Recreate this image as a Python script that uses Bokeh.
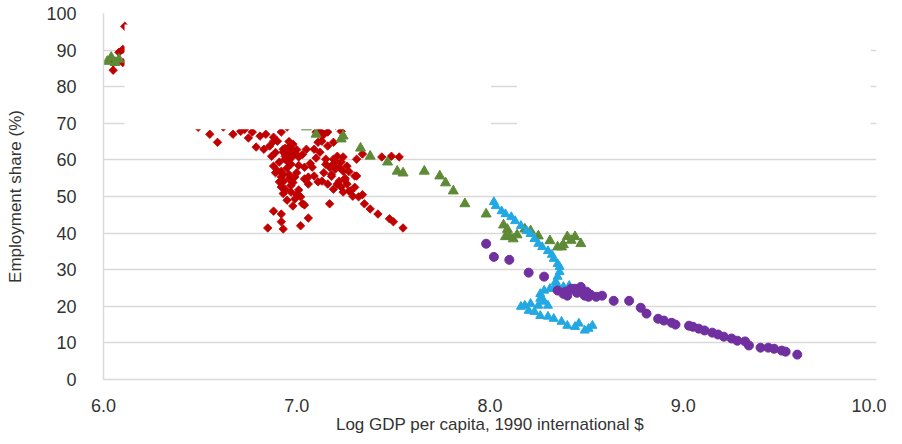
from bokeh.plotting import figure
from bokeh.models import BoxAnnotation, FixedTicker, PrintfTickFormatter
from bokeh.embed import file_html
from bokeh.resources import INLINE

# ---------------- data ----------------
red_x = [6.05, 6.05, 6.08, 6.10, 6.11, 6.10, 6.15, 6.20, 6.30, 6.40, 6.50, 6.60, 6.45,
         6.49, 6.55, 6.59, 6.71, 6.73, 6.77, 6.81, 6.84, 6.88, 6.88, 6.92, 6.90, 6.83,
         6.87, 6.88, 6.92, 6.93, 6.95, 6.97, 6.99, 6.98, 7.01, 6.95, 6.91, 6.93, 6.92,
         6.93, 6.92, 6.94, 6.97, 6.99, 7.02, 7.03, 6.98, 6.88, 6.92, 6.92, 6.85, 6.93,
         7.02, 7.06, 7.04, 6.99, 7.04, 7.06, 7.09, 7.04, 7.06, 6.98, 7.05, 7.10, 7.12,
         7.16, 7.11, 7.13, 7.16, 7.09, 7.12, 7.15, 7.19, 7.21, 7.24, 7.23, 7.19, 7.17,
         7.20, 7.24, 7.26, 7.30, 7.11, 7.13, 7.16, 7.19, 7.21, 7.23, 7.24, 7.27, 7.29,
         7.32, 7.17, 7.35, 7.38, 7.42, 7.48, 7.50, 7.55, 7.31, 7.34, 7.44, 7.49, 7.53,
         7.13, 7.19, 6.96, 6.93, 7.01, 7.08, 7.14, 7.23, 6.79, 6.86, 7.00, 7.31, 7.28,
         7.14, 7.22, 7.26, 6.90, 6.96, 6.62, 6.95, 7.20,
         6.94, 6.96, 6.95, 6.97, 6.94, 6.96, 6.98, 6.93, 6.95, 6.97, 7.00, 6.94, 6.96,
         7.03, 7.00, 7.18, 7.22, 7.25, 7.20, 7.15, 7.27, 7.10, 6.91, 6.89, 6.97, 7.07,
         6.75, 6.67, 7.18, 7.30, 7.34, 7.25, 7.01, 6.89]
red_y = [84.5, 86.5, 89.4, 90.2, 96.5, 86.6, 93.0, 91.0, 88.0, 83.0, 78.0, 74.0, 70.0,
         68.9, 67.0, 64.8, 67.8, 68.3, 67.6, 66.5, 67.0, 66.2, 65.1, 67.6, 65.1, 62.9,
         61.0, 58.3, 56.9, 62.9, 62.1, 62.9, 62.1, 64.3, 60.8, 59.7, 59.4, 62.1, 55.3,
         54.0, 52.6, 52.0, 51.2, 49.3, 49.9, 48.0, 47.4, 46.0, 45.2, 43.1, 41.4, 41.1,
         42.0, 44.1, 47.7, 55.3, 54.8, 55.3, 55.6, 58.0, 53.4, 61.0, 62.9, 67.6, 67.8,
         67.6, 64.8, 65.1, 63.8, 62.9, 62.1, 60.2, 60.2, 61.0, 60.8, 59.4, 58.9, 58.0,
         57.5, 56.9, 58.3, 55.6, 54.0, 54.2, 53.4, 52.0, 53.4, 52.6, 51.2, 51.5, 50.1,
         49.9, 48.0, 48.0, 46.6, 45.2, 43.9, 43.1, 41.4, 60.2, 61.6, 60.8, 61.0, 60.8,
         66.5, 64.8, 54.8, 56.1, 58.5, 58.0, 67.0, 67.8, 63.5, 63.8, 50.5, 55.6, 51.5,
         56.5, 54.2, 53.4, 57.0, 60.0, 69.0, 69.0, 69.5,
         61.0, 63.5, 57.8, 58.8, 60.2, 56.0, 53.8, 50.8, 49.0, 61.5, 62.8, 63.2, 65.0,
         61.5, 56.5, 56.0, 58.0, 55.0, 59.5, 58.8, 56.8, 60.5, 54.0, 56.5, 53.0, 59.0,
         66.0, 67.0, 55.5, 52.5, 50.5, 54.5, 51.8, 62.0]

green_x = [6.02, 6.04, 6.06, 6.08, 6.30, 6.60, 6.90, 7.05,
           7.10, 7.23, 7.24, 7.33, 7.38, 7.47, 7.52, 7.55, 7.66, 7.74, 7.77, 7.81,
           7.87, 7.98, 8.07, 8.09, 8.10, 8.12, 8.18, 8.21, 8.25, 8.31, 8.35, 8.37,
           8.38, 8.40, 8.44, 8.47, 8.42, 8.14, 8.08]
green_y = [86.9, 88.0, 86.6, 87.5, 84.0, 78.0, 72.0, 69.0,
           67.0, 65.7, 66.5, 63.2, 61.0, 59.4, 56.9, 56.4, 56.9, 55.6, 53.7, 51.5,
           48.0, 45.2, 42.2, 41.0, 39.2, 38.4, 41.1, 40.6, 39.2, 37.9, 36.2, 36.2,
           36.8, 39.0, 39.0, 37.1, 38.0, 39.5, 39.0]

cyan_x = [8.02, 8.03, 8.06, 8.08, 8.11, 8.13, 8.16, 8.19, 8.21, 8.23, 8.25, 8.27,
          8.30, 8.32, 8.33, 8.35, 8.36, 8.36, 8.35, 8.34, 8.35, 8.33, 8.31, 8.28,
          8.26, 8.26, 8.28, 8.30, 8.25, 8.21, 8.18, 8.16, 8.20, 8.23, 8.26, 8.30,
          8.33, 8.37, 8.40, 8.44, 8.46, 8.49, 8.51, 8.53, 8.38, 8.41]
cyan_y = [48.5, 47.4, 46.0, 45.2, 44.4, 43.3, 42.0, 40.6, 39.8, 38.4, 37.1, 36.2,
          35.1, 34.1, 33.0, 31.6, 30.8, 29.4, 28.1, 26.7, 25.6, 24.8, 24.8, 24.3,
          23.4, 22.1, 21.3, 20.2, 20.2, 20.7, 20.2, 19.9, 18.8, 18.5, 17.4, 17.2,
          16.6, 15.8, 14.7, 14.4, 15.3, 13.4, 13.9, 14.7, 25.3, 25.6]

purple_x = [7.98, 8.02, 8.10, 8.20, 8.28, 8.35, 8.38, 8.39, 8.40, 8.42, 8.44, 8.45,
            8.47, 8.49, 8.50, 8.51, 8.52, 8.55, 8.58, 8.64, 8.72, 8.78, 8.81, 8.87,
            8.90, 8.94, 8.96, 9.03, 9.05, 9.08, 9.11, 9.15, 9.18, 9.21, 9.25, 9.28,
            9.32, 9.34, 9.40, 9.44, 9.47, 9.51, 9.53, 9.59]
purple_y = [37.1, 33.5, 32.7, 29.2, 28.1, 24.3, 23.4, 24.0, 22.9, 24.8, 24.8, 23.7,
            25.3, 22.9, 24.0, 22.6, 23.2, 22.6, 22.9, 21.5, 21.5, 19.6, 18.0, 16.6,
            16.1, 15.5, 15.0, 14.7, 14.4, 13.9, 13.4, 12.8, 12.3, 11.7, 11.2, 10.6,
            10.4, 9.3, 8.7, 8.7, 8.4, 7.9, 7.6, 6.8]

x_ticks = [6, 7, 8, 9, 10]
y_ticks = [0, 10, 20, 30, 40, 50, 60, 70, 80, 90, 100]

# ---------------- figure ----------------
p = figure(width=886, height=436, x_range=(6, 10), y_range=(0, 100),
           output_backend="svg", toolbar_location=None,
           min_border_left=103, min_border_right=10, min_border_top=13, min_border_bottom=52)
p.outline_line_color = None
p.background_fill_color = "white"
p.border_fill_color = "white"

p.xgrid.grid_line_color = None
p.ygrid.grid_line_color = "#D9D9D9"
p.ygrid.grid_line_width = 1.5

p.xaxis.ticker = FixedTicker(ticks=x_ticks)
p.yaxis.ticker = FixedTicker(ticks=y_ticks)
p.xaxis.formatter = PrintfTickFormatter(format="%.1f")

for ax in (p.xaxis[0], p.yaxis[0]):
    ax.axis_line_color = "#D9D9D9"
    ax.axis_line_width = 1.5
    ax.major_tick_line_color = None
    ax.minor_tick_line_color = None
    ax.major_label_text_font = "Liberation Sans"
    ax.major_label_text_font_size = "18px"
    ax.major_label_text_color = "#333333"
    ax.axis_label_text_font = "Liberation Sans"
    ax.axis_label_text_font_style = "normal"
    ax.axis_label_text_color = "#333333"

p.xaxis.major_label_standoff = 13
p.yaxis.major_label_standoff = 21
p.xaxis.axis_label = "Log GDP per capita, 1990 international $"
p.xaxis.axis_label_text_font_size = "17px"
p.xaxis.axis_label_standoff = 0
p.yaxis.axis_label = "Employment share (%)"
p.yaxis.axis_label_text_font_size = "17px"
p.yaxis.axis_label_standoff = 18

p.scatter(red_x, red_y, marker="square", size=6, angle=0.785, fill_color="#C00000",
          line_color="#C00000", line_width=0.8)
p.scatter(green_x, green_y, marker="triangle", size=10, fill_color="#5E8A36",
          line_color="#5E8A36")
p.scatter(cyan_x, cyan_y, marker="triangle", size=9, fill_color="#22A8E2",
          line_color="#22A8E2")
p.scatter(purple_x, purple_y, marker="circle", size=9, fill_color="#7030A0",
          line_color="#7030A0")

# white blank overlays present in the reference image
for l, r, b, t in [(6.109, 8.005, 68.4, 97.0),
                   (8.005, 9.97, 84.7, 96.3),
                   (8.14, 9.97, 68.4, 96.3),
                   (7.38, 8.45, 96.3, None)]:
    p.add_layout(BoxAnnotation(left=l, right=r, bottom=b, top=t,
                               fill_color="white", fill_alpha=1.0,
                               line_color=None, level="overlay"))

open("out.html", "w").write(file_html(p, INLINE))
